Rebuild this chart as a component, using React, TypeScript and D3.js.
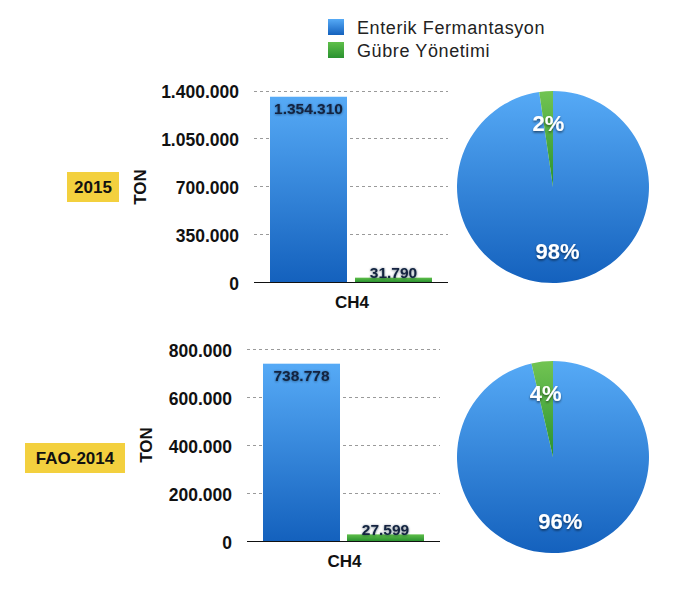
import React from "react";
import * as d3 from "d3";

const seriesNames = ["Enterik Fermantasyon", "Gübre Yönetimi"];
const category = "CH4";
const panelLabels = ["2015", "FAO-2014"];
const values2015 = [1354310, 31790];
const valuesFao = [738778, 27599];
const ticks2015 = [0, 350000, 700000, 1050000, 1400000];
const ticksFao = [0, 200000, 400000, 600000, 800000];
const axisTitle = "TON";

const fmt = (v: number) => d3.format(",")(v).replace(/,/g, ".");

const FONT = "'Liberation Sans', Arial, Helvetica, sans-serif";

type PanelCfg = {
  values: number[];
  ticks: number[];
  label: string;
  yTop: number;
  yBottom: number;
  xLeft: number;
  xRight: number;
  tickX: number;
  titleX: number;
  titleY: number;
  box: [number, number, number, number];
  barX0: number;
  barW: number;
  barGap: number;
  catY: number;
  pie: [number, number, number];
  id: string;
};

function Panel({ c }: { c: PanelCfg }) {
  const y = d3
    .scaleLinear()
    .domain([0, d3.max(c.ticks) as number])
    .range([c.yBottom, c.yTop]);
  const x = d3
    .scaleBand<number>()
    .domain(c.values.map((_, i) => i))
    .range([c.barX0, c.barX0 + c.barW * 2 + c.barGap])
    .paddingInner(c.barGap / (c.barW + c.barGap));
  const total = d3.sum(c.values);
  const pie = d3
    .pie<number>()
    .sort(null)
    .value((d) => d)(c.values);
  const [cx, cy, r] = c.pie;
  const arc = d3.arc<d3.PieArcDatum<number>>().innerRadius(0).outerRadius(r);
  const labelArc = d3
    .arc<d3.PieArcDatum<number>>()
    .innerRadius(r * 0.67)
    .outerRadius(r * 0.67);
  return (
    <g>
      <rect x={c.box[0]} y={c.box[1]} width={c.box[2]} height={c.box[3]} fill="#f3d03e" />
      <text
        x={c.box[0] + c.box[2] / 2}
        y={c.box[1] + c.box[3] / 2 + 6}
        textAnchor="middle"
        fontFamily={FONT}
        fontWeight="bold"
        fontSize={17}
        fill="#111"
      >
        {c.label}
      </text>
      <text
        transform={`translate(${c.titleX},${c.titleY}) rotate(-90)`}
        textAnchor="middle"
        fontFamily={FONT}
        fontWeight="bold"
        fontSize={17}
        fill="#111"
      >
        {axisTitle}
      </text>
      {c.ticks.map((t) => (
        <g key={t}>
          {t > 0 && (
            <line
              x1={c.xLeft}
              x2={c.xRight}
              y1={Math.round(y(t)) + 0.5}
              y2={Math.round(y(t)) + 0.5}
              stroke="#9a9a9a"
              strokeDasharray="3,3"
            />
          )}
          <text
            x={c.tickX}
            y={y(t) + 7.5}
            textAnchor="end"
            fontFamily={FONT}
            fontWeight="bold"
            fontSize={17.5}
            fill="#111"
          >
            {fmt(t)}
          </text>
        </g>
      ))}
      {c.values.map((v, i) => {
        const top = y(v);
        const h = c.yBottom - top;
        const inside = h > 30;
        return (
          <g key={i}>
            <rect
              x={x(i)}
              y={top}
              width={x.bandwidth()}
              height={h}
              fill={i === 0 ? "url(#barBlue)" : "url(#barGreen)"}
            />
            <text
              x={(x(i) as number) + x.bandwidth() / 2}
              y={inside ? top + 17 : top + 0.5}
              textAnchor="middle"
              fontFamily={FONT}
              fontWeight="bold"
              fontSize={15.5}
              fill="#12233f"
              filter="url(#softShadow)"
            >
              {fmt(v)}
            </text>
          </g>
        );
      })}
      <line
        x1={c.xLeft}
        x2={c.xRight}
        y1={c.yBottom + 0.5}
        y2={c.yBottom + 0.5}
        stroke="#111"
        strokeWidth={1.2}
      />
      <text
        x={(c.xLeft + c.xRight) / 2 + 1}
        y={c.catY}
        textAnchor="middle"
        fontFamily={FONT}
        fontWeight="bold"
        fontSize={17}
        fill="#111"
      >
        {category}
      </text>
      <g transform={`translate(${cx},${cy})`}>
        {pie.map((p, i) => (
          <path key={i} d={arc(p) as string} fill={i === 0 ? "url(#pieBlue)" : "url(#pieGreen)"} />
        ))}
        {pie.map((p, i) => {
          const [lx, ly] = labelArc.centroid(p);
          return (
            <text
              key={i}
              x={lx}
              y={ly + 8}
              textAnchor="middle"
              fontFamily={FONT}
              fontWeight="bold"
              fontSize={22}
              fill="#fff"
              filter="url(#darkShadow)"
            >
              {Math.round((p.data / total) * 100) + "%"}
            </text>
          );
        })}
      </g>
    </g>
  );
}

export default function App() {
  const panels: PanelCfg[] = [
    {
      values: values2015,
      ticks: ticks2015,
      label: panelLabels[0],
      yTop: 90.5,
      yBottom: 282,
      xLeft: 254,
      xRight: 448,
      tickX: 239,
      titleX: 146,
      titleY: 187,
      box: [67, 172, 52, 30],
      barX0: 270,
      barW: 77,
      barGap: 8,
      catY: 308,
      pie: [553, 187, 96],
      id: "a",
    },
    {
      values: valuesFao,
      ticks: ticksFao,
      label: panelLabels[1],
      yTop: 349,
      yBottom: 541,
      xLeft: 247,
      xRight: 440,
      tickX: 232,
      titleX: 152,
      titleY: 445,
      box: [25, 443, 100, 30],
      barX0: 263,
      barW: 77,
      barGap: 7,
      catY: 567,
      pie: [553, 457, 96],
      id: "b",
    },
  ];
  return (
    <svg
      width={680}
      height={599}
      style={{ position: "absolute", left: 0, top: 0, background: "#fff" }}
    >
      <defs>
        <linearGradient id="barBlue" x1="0" y1="0" x2="0" y2="1">
          <stop offset="0" stopColor="#56aaf6" />
          <stop offset="1" stopColor="#1461bd" />
        </linearGradient>
        <linearGradient id="barGreen" x1="0" y1="0" x2="0" y2="1">
          <stop offset="0" stopColor="#5fbf4a" />
          <stop offset="1" stopColor="#2a9230" />
        </linearGradient>
        <linearGradient id="pieBlue" gradientUnits="userSpaceOnUse" x1="0" y1="-96" x2="0" y2="96">
          <stop offset="0" stopColor="#56aaf6" />
          <stop offset="1" stopColor="#1461bd" />
        </linearGradient>
        <linearGradient id="pieGreen" gradientUnits="userSpaceOnUse" x1="0" y1="-96" x2="0" y2="0">
          <stop offset="0" stopColor="#72c452" />
          <stop offset="1" stopColor="#2a9230" />
        </linearGradient>
        <linearGradient id="legBlue" x1="0" y1="0" x2="0" y2="1">
          <stop offset="0" stopColor="#56aaf6" />
          <stop offset="1" stopColor="#1461bd" />
        </linearGradient>
        <linearGradient id="legGreen" x1="0" y1="0" x2="0" y2="1">
          <stop offset="0" stopColor="#5fbf4a" />
          <stop offset="1" stopColor="#2a9230" />
        </linearGradient>
        <filter id="softShadow" x="-20%" y="-40%" width="140%" height="180%">
          <feDropShadow dx="0" dy="0.5" stdDeviation="0.9" floodColor="#0b1a33" floodOpacity="0.6" />
        </filter>
        <filter id="darkShadow" x="-20%" y="-40%" width="140%" height="180%">
          <feDropShadow dx="0" dy="1.5" stdDeviation="1.2" floodColor="#000" floodOpacity="0.55" />
        </filter>
      </defs>
      {seriesNames.map((n, i) => (
        <g key={n} transform={`translate(328,${19 + i * 23})`}>
          <rect width={16} height={16} fill={i === 0 ? "url(#legBlue)" : "url(#legGreen)"} />
          <text
            x={29}
            y={15}
            fontFamily={FONT}
            fontSize={18}
            letterSpacing={0.6}
            fill="#222"
          >
            {n}
          </text>
        </g>
      ))}
      {panels.map((p) => (
        <Panel key={p.id} c={p} />
      ))}
    </svg>
  );
}
